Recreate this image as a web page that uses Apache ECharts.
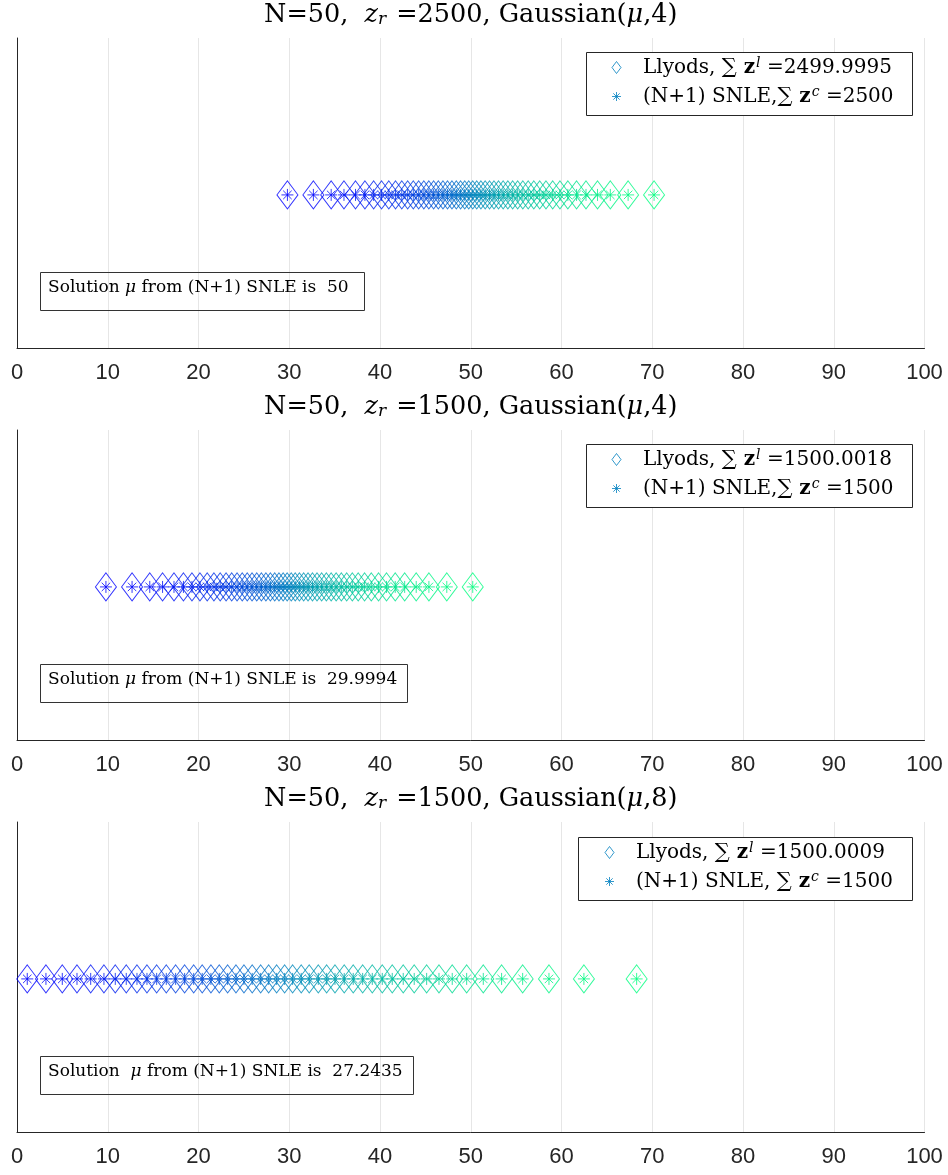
<!DOCTYPE html>
<html>
<head>
<meta charset="utf-8">
<script src="https://cdn.jsdelivr.net/npm/echarts@6/dist/echarts.min.js"></script>
<style>
html, body { margin: 0; padding: 0; background: #fff; }
#chart { width: 948px; height: 1175px; }
</style>
</head>
<body>
<div id="chart"></div>
<script>
// Quantizer centres (50 per case); Lloyd and (N+1) SNLE give the same points
const centersA = [
  29.8, 32.66, 34.62, 36.03, 37.3, 38.34, 39.3, 40.17, 40.97, 41.71,
  42.4, 43.05, 43.67, 44.26, 44.83, 45.38, 45.91, 46.43, 46.94, 47.44,
  47.93, 48.41, 48.88, 49.34, 49.78, 50.22, 50.66, 51.12, 51.59, 52.07,
  52.56, 53.06, 53.57, 54.09, 54.62, 55.17, 55.74, 56.33, 56.95, 57.6,
  58.29, 59.03, 59.83, 60.7, 61.66, 62.7, 63.97, 65.38, 67.34, 70.2
];
const centersB = [
  9.8, 12.68, 14.63, 16.04, 17.3, 18.34, 19.28, 20.16, 20.96, 21.7,
  22.39, 23.04, 23.66, 24.25, 24.82, 25.37, 25.9, 26.42, 26.93, 27.43,
  27.92, 28.4, 28.87, 29.33, 29.77, 30.22, 30.66, 31.12, 31.59, 32.07,
  32.56, 33.06, 33.57, 34.09, 34.62, 35.17, 35.74, 36.33, 36.95, 37.6,
  38.3, 39.04, 39.84, 40.72, 41.68, 42.72, 43.99, 45.39, 47.36, 50.22
];
const centersC = [
  1.13, 3.19, 4.99, 6.61, 8.12, 9.58, 10.83, 12.04, 13.22, 14.32,
  15.39, 16.45, 17.48, 18.47, 19.47, 20.41, 21.37, 22.29, 23.21, 24.13,
  25.01, 25.92, 26.85, 27.73, 28.61, 29.49, 30.37, 31.32, 32.2, 33.2,
  34.12, 35.04, 36.06, 37.05, 38.09, 39.15, 40.25, 41.35, 42.56, 43.77,
  45.14, 46.5, 47.96, 49.55, 51.38, 53.4, 55.72, 58.62, 62.47, 68.28
];

const zr = ['2500', '1500', '1500'];
const sigma = ['4', '4', '8'];
const lloydSums = ['2499.9995', '1500.0018', '1500.0009'];
const snleSums = ['2500', '1500', '1500'];
const solutions = ['50', '29.9994', '27.2435'];

const panels = [centersA, centersB, centersC];

// layout
const PLOT_LEFT = 17, PLOT_RIGHT = 23.5, PLOT_H = 310;
const plotTops = [38, 430, 822];
const legendBoxes = [
  { x: 586, y: 52, w: 326, h: 63, iconLeft: 611.5, comma: '' },
  { x: 586, y: 444, w: 326, h: 63, iconLeft: 611.5, comma: '' },
  { x: 578, y: 837, w: 334, h: 63, iconLeft: 604.5, comma: ' ' }
];
const noteBoxes = [
  { x: 40, y: 272, w: 324, h: 38, lead: '' },
  { x: 40, y: 664, w: 367, h: 38, lead: '' },
  { x: 40, y: 1056, w: 373, h: 38, lead: ' ' }
];

const SERIF = '"DejaVu Serif", "Liberation Serif", serif';
const AXIS_COLOR = '#262626';
const LEGEND_COLOR = 'rgb(0,128,191)';
const ASTERISK = 'path://M6,0L6,12M0,6L12,6M1.76,1.76L10.24,10.24M1.76,10.24L10.24,1.76';

// MATLAB "winter" colormap, blue -> spring green
function winter(i, n) {
  const t = i / (n - 1);
  return 'rgb(0,' + Math.round(255 * t) + ',' + Math.round(255 * (1 - 0.5 * t)) + ')';
}

function richSet(size, lh) {
  const base = { fontFamily: SERIF, fontSize: size, color: '#000', fontWeight: 'normal', lineHeight: lh };
  return {
    t: Object.assign({}, base),
    i: Object.assign({}, base, { fontStyle: 'italic' }),
    s: Object.assign({}, base, { fontSize: Math.round(size * 1.05) }),
    b: Object.assign({}, base, { fontWeight: 'bold' }),
    sup: Object.assign({}, base, { fontSize: Math.round(size * 0.68), fontStyle: 'italic', padding: [0, 0, Math.round(size * 0.45), 1] }),
    sub: Object.assign({}, base, { fontSize: Math.round(size * 0.68), fontStyle: 'italic', padding: [Math.round(size * 0.4), 2, 0, 0] }),
    sp: { width: 17, fontSize: 10, lineHeight: lh }
  };
}
const legendRich = richSet(20, 22);
const noteRich = richSet(17, 22);
const titleRich = richSet(25.5, 30);

const grids = [], xAxes = [], yAxes = [], series = [], titles = [], legends = [], boxes = [];
const legendNames = {};

panels.forEach(function (centers, p) {
  grids.push({ left: PLOT_LEFT, right: PLOT_RIGHT, top: plotTops[p], height: PLOT_H });
  xAxes.push({
    gridIndex: p, type: 'value', min: 0, max: 100, interval: 10,
    axisLine: { show: true, onZero: false, lineStyle: { color: AXIS_COLOR, width: 1 } },
    axisTick: { show: false },
    axisLabel: { color: AXIS_COLOR, fontFamily: '"Liberation Sans", Arial, sans-serif', fontSize: 22, margin: 14 },
    splitLine: { show: true, lineStyle: { color: '#e6e6e6', width: 1 } }
  });
  yAxes.push({
    gridIndex: p, type: 'value', min: -1, max: 1.025,
    axisLine: { show: true, onZero: false, lineStyle: { color: AXIS_COLOR, width: 1 } },
    axisTick: { show: false }, axisLabel: { show: false }, splitLine: { show: false }
  });

  const pts = centers.map(function (x, i) {
    return { value: [x, 0], itemStyle: { borderColor: winter(i, centers.length) } };
  });
  const nameL = 'lloyd' + p, nameC = 'snle' + p;
  series.push({
    name: nameL, type: 'scatter', xAxisIndex: p, yAxisIndex: p,
    symbol: 'diamond', symbolSize: [21, 28], z: 2, silent: true,
    itemStyle: { color: 'rgba(0,0,0,0)', borderWidth: 1 }, data: pts
  });
  series.push({
    name: nameC, type: 'scatter', xAxisIndex: p, yAxisIndex: p,
    symbol: ASTERISK, symbolSize: 12, z: 3, silent: true,
    itemStyle: { color: 'rgba(0,0,0,0)', borderWidth: 1 }, data: pts
  });

  // legend: white framed box drawn underneath, entries on top
  const lb = legendBoxes[p];
  boxes.push({
    type: 'rect', z: 3, silent: true,
    shape: { x: lb.x + 0.5, y: lb.y + 0.5, width: lb.w, height: lb.h },
    style: { fill: '#fff', stroke: AXIS_COLOR, lineWidth: 1 }
  });
  legendNames[nameL] = '{sp| }{t|Llyods, }{s|∑}{b| z}{sup|l}{t| =' + lloydSums[p] + '}';
  legendNames[nameC] = '{sp| }{t|(N+1) SNLE,' + lb.comma + '}{s|∑}{b| z}{sup|c}{t| =' + snleSums[p] + '}';
  legends.push({
    orient: 'vertical', left: lb.iconLeft, top: lb.y + 4,
    padding: 0, itemGap: 6, itemWidth: 9, itemHeight: 12,
    selectedMode: false,
    data: [
      { name: nameL, icon: 'diamond', itemStyle: { color: 'rgba(0,0,0,0)', borderColor: LEGEND_COLOR, borderWidth: 1 } },
      { name: nameC, icon: ASTERISK, itemStyle: { color: 'rgba(0,0,0,0)', borderColor: LEGEND_COLOR, borderWidth: 1 } }
    ],
    formatter: function (name) { return legendNames[name]; },
    textStyle: { rich: legendRich }
  });

  titles.push({
    text: '{t|N=50,  }{i|z}{sub|r}{t| =' + zr[p] + ', Gaussian(}{i|μ}{t|,' + sigma[p] + ')}',
    left: PLOT_LEFT + (948 - PLOT_LEFT - PLOT_RIGHT) / 2, textAlign: 'center',
    top: plotTops[p] - 38, padding: 0,
    textStyle: { rich: titleRich }
  });

  // annotation: framed text box
  const nb = noteBoxes[p];
  boxes.push({
    type: 'rect', z: 3, silent: true,
    shape: { x: nb.x + 0.5, y: nb.y + 0.5, width: nb.w, height: nb.h },
    style: { fill: null, stroke: '#333', lineWidth: 1 }
  });
  titles.push({
    text: '{t|Solution ' + nb.lead + '}{i|μ}{t| from (N+1) SNLE is  ' + solutions[p] + '}',
    left: nb.x + 8, top: nb.y + 5, padding: 0,
    textStyle: { rich: noteRich }
  });
});

const chart = echarts.init(document.getElementById('chart'), null, { renderer: 'canvas' });
chart.setOption({
  animation: false,
  backgroundColor: '#fff',
  title: titles,
  legend: legends,
  grid: grids,
  xAxis: xAxes,
  yAxis: yAxes,
  graphic: { elements: boxes },
  series: series
});
</script>
</body>
</html>
